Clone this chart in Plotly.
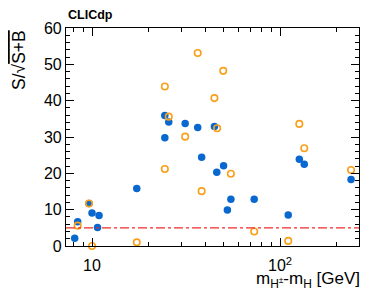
import plotly.graph_objects as go

# Blue filled series
blue_x = [8.09, 8.39, 9.64, 10.0, 10.9, 10.7, 17.3, 24.4, 24.4, 25.6, 31.3, 36.5, 38.3,
          44.8, 46.1, 50.1, 52.5, 54.8, 72.9, 110.6, 126.7, 134.6, 238.7]
blue_y = [2.1, 6.7, 11.7, 9.05, 8.4, 5.1, 15.8, 35.9, 29.8, 34.1, 33.7, 32.6, 24.4,
          32.9, 20.3, 22.1, 9.9, 12.9, 12.9, 8.5, 23.9, 22.5, 18.3]

# Orange open series
orange_x = [8.39, 9.64, 10.0, 17.3, 24.4, 24.4, 25.6, 31.3, 36.5, 38.3, 44.8, 46.3,
            49.9, 54.8, 72.9, 110.6, 126.7, 134.6, 238.7]
orange_y = [5.6, 11.7, 0.0, 1.0, 43.9, 21.2, 35.6, 30.1, 53.1, 15.1, 40.7, 32.4,
            48.2, 19.9, 4.0, 1.4, 33.6, 26.9, 20.9]

threshold = 5
x_tickvals = [10, 100]
x_ticktext = ["10", "10<sup>2</sup>"]
x_minor = [8, 9, 20, 30, 40, 50, 60, 70, 80, 90, 200]

FONT = "Liberation Sans, Arial, Helvetica, sans-serif"

fig = go.Figure()
fig.add_trace(go.Scatter(x=blue_x, y=blue_y, mode="markers",
                         marker=dict(color="#0868d0", size=7.5, line=dict(width=0)),
                         showlegend=False))
fig.add_trace(go.Scatter(x=orange_x, y=orange_y, mode="markers",
                         marker=dict(symbol="circle-open", color="#f9a01b", size=6.5,
                                     line=dict(width=1.6, color="#f9a01b")),
                         showlegend=False, cliponaxis=False))

fig.add_shape(type="line", xref="paper", x0=0, x1=1, yref="y", y0=threshold, y1=threshold,
              line=dict(color="#f02a2a", width=1.2, dash="dashdot"))

# page body has an 8px margin, so the figure is sized to the visible area
fig.update_layout(
    width=382, height=292,
    margin=dict(l=58, r=31, t=17, b=54),
    paper_bgcolor="white", plot_bgcolor="white",
    font=dict(family=FONT, color="black", size=16),
    xaxis=dict(type="log", range=[0.8617, 2.4202],
               tickmode="array", tickvals=x_tickvals, ticktext=x_ticktext,
               ticks="inside", ticklen=8, tickwidth=1, tickcolor="black",
               minor=dict(tickmode="array", tickvals=x_minor, ticks="inside",
                          ticklen=4, tickwidth=1, tickcolor="black"),
               showline=True, linecolor="black", linewidth=1.2, mirror="ticks",
               showgrid=False, zeroline=False, tickfont=dict(size=16),
               ticklabelstandoff=5),
    yaxis=dict(range=[0, 60], dtick=10, tick0=0,
               ticks="inside", ticklen=8, tickwidth=1, tickcolor="black",
               minor=dict(dtick=2, ticks="inside", ticklen=4, tickwidth=1, tickcolor="black"),
               showline=True, linecolor="black", linewidth=1.2, mirror="ticks",
               showgrid=False, zeroline=False, tickfont=dict(size=16)),
)

fig.add_annotation(text="<b>CLICdp</b>", xref="paper", yref="paper", x=0, y=1,
                   xanchor="left", yanchor="bottom", yshift=4, showarrow=False,
                   font=dict(size=12.5, family=FONT))
fig.add_annotation(text="S/√<span style='text-decoration:overline'>S+B</span>",
                   xref="paper", yref="paper", x=0, y=1, xshift=-47, yshift=-32,
                   xanchor="center", yanchor="middle", textangle=-90, showarrow=False,
                   font=dict(size=17.5, family=FONT))
fig.add_annotation(text="m<sub>H<sup>±</sup></sub>-m<sub>H</sub> [GeV]",
                   xref="paper", yref="paper", x=1, y=0, xanchor="right", yanchor="top",
                   xshift=3, yshift=-21, showarrow=False, font=dict(size=17, family=FONT))

fig.write_html("out.html")
